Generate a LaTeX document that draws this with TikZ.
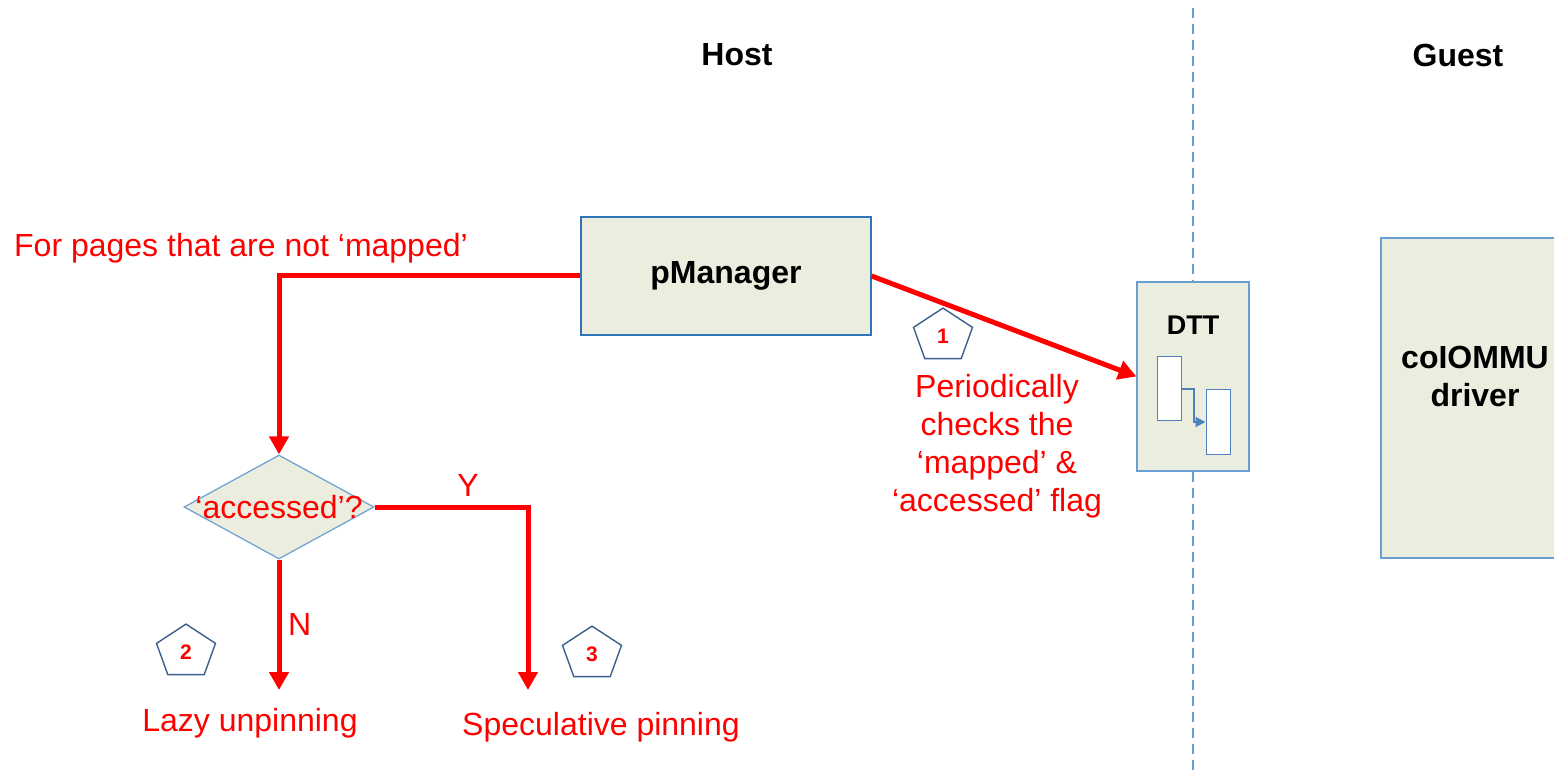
\documentclass[tikz,border=0pt]{standalone}
\usepackage{fontspec}
\setmainfont{Liberation Sans}
\usetikzlibrary{shapes.geometric,arrows.meta}
\definecolor{boxfill}{HTML}{EBEEDE}
\definecolor{boxline}{HTML}{2E75B6}
\definecolor{softline}{HTML}{6A9FD4}
\definecolor{penline}{HTML}{3B5E8C}
\definecolor{linkblue}{HTML}{4F81BD}

\begin{document}
\begin{tikzpicture}[x=0.5pt,y=-0.5pt,
    redtext/.style={text=red, font=\fontsize{16}{19}\selectfont},
    boldtext/.style={font=\fontsize{16}{19}\selectfont\bfseries},
    box/.style={draw=softline, fill=boxfill, line width=0.6pt, inner sep=0pt},
    flow/.style={red, line width=2.5pt, -{Triangle[length=9pt,width=9.5pt]}},
    marker/.style={regular polygon, regular polygon sides=5, draw=penline,
        line width=0.7pt, minimum size=31pt, inner sep=0pt, yscale=0.9},
    markno/.style={text=red, font=\fontsize{10.5}{11}\selectfont\bfseries},
    cell/.style={draw=linkblue, fill=white, line width=0.5pt, inner sep=0pt,
        minimum width=12pt, minimum height=32pt}]
    \useasboundingbox (0,0) rectangle (1554,775);
    \clip (0,0) rectangle (1554,775);

    % host / guest split
    \node[boldtext] (host) at (737,55) {Host};
    \node[boldtext] (guest) at (1458,55) {Guest};
    \coordinate (splittop) at (1193,8);
    \coordinate (splitbot) at (1193,775);
    \draw[softline, line width=0.7pt, dash pattern=on 5pt off 3pt] (splittop) -- (splitbot);

    % boxes
    \node[box, draw=boxline, minimum width=145pt, minimum height=59pt] (pm) at (726,276) {};
    \node[boldtext] at (pm) {pManager};
    \node[box, minimum width=56pt, minimum height=94.5pt] (dtt) at (1193,376.5) {};
    \node[font=\fontsize{13.5}{16}\selectfont\bfseries] (dttlabel) at (1193,325) {DTT};
    \node[cell] (dttA) at (1169,389) {};
    \node[cell] (dttB) at (1218,422) {};
    \draw[linkblue, line width=1pt, -{Triangle[length=5pt,width=5pt]}]
        (dttA.east) -- ++(12,0) |- (dttB.west);
    \node[box, minimum width=94.5pt, minimum height=160pt] (drv) at (1475.5,398) {};
    \node[boldtext, align=center] at (1475,376) {coIOMMU\\driver};

    % pManager checks
    \draw[flow] (pm.east) -- (dtt.west);
    \node[marker] (m1) at (943,336) {};
    \node[markno] at (m1) {1};
    \node[redtext, align=center] (check) at (997,446)
        {Periodically\\checks the\\‘mapped’ \&\\‘accessed’ flag};

    % decision on unmapped pages
    \node[redtext] (unmapped) at (241,248) {For pages that are not ‘mapped’};
    \node[box, diamond, minimum width=95pt, minimum height=52pt] (acc) at (279,507) {};
    \node[redtext] at (acc) {‘accessed’?};
    \draw[flow] (pm.west) -| (acc.north);

    \coordinate (lazyend) at (279,690);
    \coordinate (specend) at (528,690);
    \draw[flow] (acc.south) -- node[redtext, right, pos=0.5] {N} (lazyend);
    \draw[flow] (acc.east) -| (specend);
    \node[redtext] (yes) at (468,485) {Y};
    \node[marker] (m2) at (186,652) {};
    \node[markno] at (m2) {2};
    \node[marker] (m3) at (592,654) {};
    \node[markno] at (m3) {3};
    \node[redtext] (lazy) at (250,723) {Lazy unpinning};
    \node[redtext] (spec) at (601,727) {Speculative pinning};
\end{tikzpicture}
\end{document}
